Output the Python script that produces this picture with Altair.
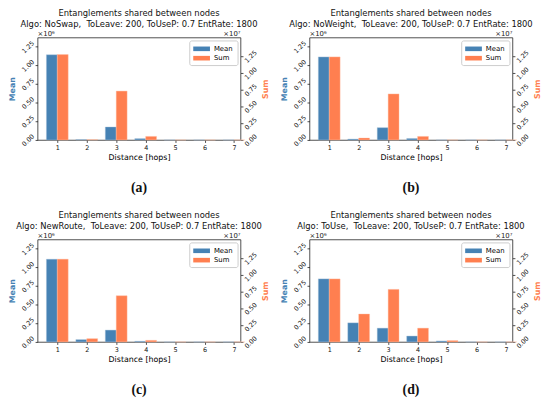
import altair as alt
import pandas as pd

hops = [1, 2, 3, 4, 5, 6, 7]
algos = ["NoSwap", "NoWeight", "NewRoute", "ToUse"]
captions = ["(a)", "(b)", "(c)", "(d)"]

# Mean values (x10^6) and Sum values (x10^7)
mean_a = [1.143, 0.005, 0.174, 0.018, 0.0, 0.0, 0.0]
sum_a = [1.275, 0.004, 0.730, 0.053, 0.0, 0.0, 0.0]
mean_b = [1.114, 0.012, 0.165, 0.020, 0.0, 0.0, 0.0]
sum_b = [1.240, 0.029, 0.687, 0.053, 0.0, 0.0, 0.0]
mean_c = [1.110, 0.031, 0.159, 0.009, 0.0, 0.0, 0.0]
sum_c = [1.236, 0.049, 0.690, 0.024, 0.0, 0.0, 0.0]
mean_d = [0.846, 0.256, 0.185, 0.079, 0.013, 0.0, 0.0]
sum_d = [0.941, 0.417, 0.785, 0.206, 0.020, 0.0, 0.0]

y_ticks = [0.0, 0.25, 0.5, 0.75, 1.0, 1.25]

BLUE = "#4682b4"
ORANGE = "#ff7f50"
BW = 0.37
W, H = 206, 104
FONT = "DejaVu Sans"


def panel(algo, means, sums, cap):
    rows = []
    for h, m, s in zip(hops, means, sums):
        rows.append(dict(hop=h, x0=h - BW, x1=h, series="Mean", value=m))
        rows.append(dict(hop=h, x0=h, x1=h + BW, series="Sum", value=s))
    df = pd.DataFrame(rows)
    base = alt.Chart(df)
    xenc = alt.X(
        "x0:Q",
        scale=alt.Scale(domain=[0.33, 7.22], nice=False, zero=False),
        axis=alt.Axis(values=hops, format="d", title="Distance [hops]",
                      labelAngle=0, labelFontSize=6.5, titleFontSize=8,
                      titleFontWeight="normal", labelPadding=2, titlePadding=2.5,
                      grid=False),
    )
    color = alt.Color(
        "series:N",
        scale=alt.Scale(domain=["Mean", "Sum"], range=[BLUE, ORANGE]),
        legend=alt.Legend(
            title=None, orient="top-right", offset=3, padding=4,
            fillColor="rgba(255,255,255,0.85)", strokeColor="#cccccc",
            cornerRadius=2, labelFontSize=7, labelFont=FONT,
            symbolType="M-2,-0.55H2V0.55H-2Z", symbolSize=72,
            symbolStrokeWidth=0, symbolOpacity=1, labelOffset=8,
            rowPadding=1.5, symbolOffset=4,
        ),
    )
    yaxis_common = dict(values=y_ticks, format=".2f", labelAngle=315,
                        labelAlign="center", labelBaseline="middle",
                        labelFontSize=6.5, labelPadding=7.5,
                        titleFontSize=8, titleFontWeight="bold",
                        titleAngle=270, titleBaseline="middle",
                        titleAlign="center", titleY=H / 2, grid=False)
    mean = base.transform_filter(alt.datum.series == "Mean").mark_bar(
        stroke="#a9c4dc", strokeWidth=0.4
    ).encode(
        x=xenc, x2="x1",
        y=alt.Y("value:Q", scale=alt.Scale(domain=[0, 1.375], nice=False),
                axis=alt.Axis(orient="left", title="Mean", titleColor=BLUE,
                              titleX=-25.5, **yaxis_common)),
        y2=alt.datum(0),
        color=color,
    )
    sm = base.transform_filter(alt.datum.series == "Sum").mark_bar(
        stroke="#ffc0a8", strokeWidth=0.4
    ).encode(
        x=xenc, x2="x1",
        y=alt.Y("value:Q", scale=alt.Scale(domain=[0, 1.53], nice=False),
                axis=alt.Axis(orient="right", title="Sum", titleColor=ORANGE,
                              titleX=25.5, **yaxis_common)),
        y2=alt.datum(0),
        color=color,
    )
    t6 = alt.Chart(pd.DataFrame({"t": ["×10⁶"]})).mark_text(
        align="left", baseline="bottom", fontSize=7, font=FONT, color="#222"
    ).encode(text="t:N", x=alt.value(0), y=alt.value(-0.5))
    t7 = alt.Chart(pd.DataFrame({"t": ["×10⁷"]})).mark_text(
        align="right", baseline="bottom", fontSize=7, font=FONT, color="#222"
    ).encode(text="t:N", x=alt.value(W), y=alt.value(-0.5))
    layer = alt.layer(mean, sm, t6, t7).resolve_scale(y="independent").properties(
        width=W, height=H,
        title=alt.TitleParams(
            ["Entanglements shared between nodes",
             f"Algo: {algo}, \u00a0ToLeave: 200, ToUseP: 0.7 EntRate: 1800"],
            fontSize=8.5, font=FONT, fontWeight="normal", lineHeight=10.4,
            anchor="middle", frame="group", offset=2, color="#111",
        ),
    )
    return alt.vconcat(layer).properties(
        title=alt.TitleParams(cap, orient="bottom", font="Liberation Serif",
                              fontSize=14, fontWeight="bold", offset=20,
                              anchor="middle", color="#111")
    ).resolve_scale(color="independent")


pa = panel(algos[0], mean_a, sum_a, captions[0])
pb = panel(algos[1], mean_b, sum_b, captions[1])
pc = panel(algos[2], mean_c, sum_c, captions[2])
pd_ = panel(algos[3], mean_d, sum_d, captions[3])

top = alt.hconcat(pa, pb, spacing=10).resolve_scale(color="independent")
bot = alt.hconcat(pc, pd_, spacing=10).resolve_scale(color="independent")
chart = alt.vconcat(top, bot, spacing=16).resolve_scale(color="independent").configure(
    font=FONT,
    padding={"top": -2, "left": 0, "right": 0, "bottom": 0},
).configure_view(
    stroke="#222", strokeWidth=0.8
).configure_axis(
    labelFont=FONT, titleFont=FONT, labelColor="#111", tickColor="#222",
    tickSize=2.5, tickWidth=0.8, domain=False, grid=False,
)

chart.save("out.html", embed_options={"renderer": "svg", "actions": False})
